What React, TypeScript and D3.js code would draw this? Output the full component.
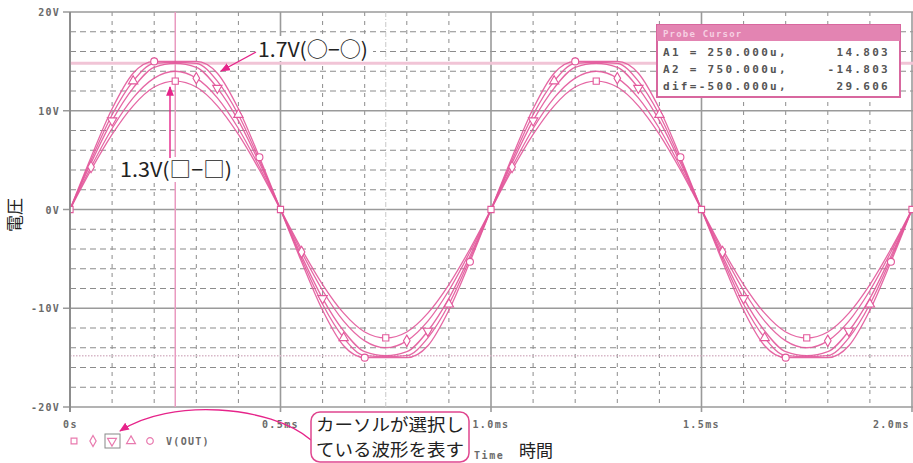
import React from "react";
import * as d3 from "d3";

// ---- data ----
const TIME_MS = [
  0, 0.05, 0.1, 0.15, 0.2, 0.25, 0.3, 0.35, 0.4, 0.45, 0.5, 0.55, 0.6, 0.65, 0.7, 0.75, 0.8, 0.85, 0.9, 0.95,
  1.0, 1.05, 1.1, 1.15, 1.2, 1.25, 1.3, 1.35, 1.4, 1.45, 1.5, 1.55, 1.6, 1.65, 1.7, 1.75, 1.8, 1.85, 1.9, 1.95, 2.0,
];
const V_13 = [
  0, 4.0, 7.6, 10.5, 12.4, 13.0, 12.4, 10.5, 7.6, 4.0, 0, -4.0, -7.6, -10.5, -12.4, -13.0, -12.4, -10.5, -7.6, -4.0,
  0, 4.0, 7.6, 10.5, 12.4, 13.0, 12.4, 10.5, 7.6, 4.0, 0, -4.0, -7.6, -10.5, -12.4, -13.0, -12.4, -10.5, -7.6, -4.0, 0,
];
const V_14 = [
  0, 4.3, 8.2, 11.3, 13.3, 14.0, 13.3, 11.3, 8.2, 4.3, 0, -4.3, -8.2, -11.3, -13.3, -14.0, -13.3, -11.3, -8.2, -4.3,
  0, 4.3, 8.2, 11.3, 13.3, 14.0, 13.3, 11.3, 8.2, 4.3, 0, -4.3, -8.2, -11.3, -13.3, -14.0, -13.3, -11.3, -8.2, -4.3, 0,
];
const V_15 = [
  0, 4.7, 9.0, 12.3, 14.4, 14.8, 14.4, 12.3, 9.0, 4.7, 0, -4.7, -9.0, -12.3, -14.4, -14.8, -14.4, -12.3, -9.0, -4.7,
  0, 4.7, 9.0, 12.3, 14.4, 14.8, 14.4, 12.3, 9.0, 4.7, 0, -4.7, -9.0, -12.3, -14.4, -14.8, -14.4, -12.3, -9.0, -4.7, 0,
];
const V_16 = [
  0, 5.0, 9.6, 13.0, 14.8, 14.9, 14.8, 13.0, 9.6, 5.0, 0, -5.0, -9.6, -13.0, -14.8, -14.9, -14.8, -13.0, -9.6, -5.0,
  0, 5.0, 9.6, 13.0, 14.8, 14.9, 14.8, 13.0, 9.6, 5.0, 0, -5.0, -9.6, -13.0, -14.8, -14.9, -14.8, -13.0, -9.6, -5.0, 0,
];
const V_17 = [
  0, 5.3, 10.2, 13.8, 15.0, 15.0, 15.0, 13.8, 10.2, 5.3, 0, -5.3, -10.2, -13.8, -15.0, -15.0, -15.0, -13.8, -10.2, -5.3,
  0, 5.3, 10.2, 13.8, 15.0, 15.0, 15.0, 13.8, 10.2, 5.3, 0, -5.3, -10.2, -13.8, -15.0, -15.0, -15.0, -13.8, -10.2, -5.3, 0,
];
const SERIES_VALUES = [V_13, V_14, V_15, V_16, V_17];
const SERIES_MARKERS = ["square", "diamond", "triangleDown", "triangleUp", "circle"];

const Y_TICKS = [20, 10, 0, -10, -20];
const Y_TICK_LABELS = ["20V", "10V", "0V", "-10V", "-20V"];
const X_TICKS = [0, 0.5, 1.0, 1.5, 2.0];
const X_TICK_LABELS = ["0s", "0.5ms", "1.0ms", "1.5ms", "2.0ms"];

const CURSOR_A1 = { t: 0.25, v: 14.803 };
const CURSOR_A2 = { t: 0.75, v: -14.803 };
const PROBE_TITLE = "Probe Cursor";
const PROBE_ROWS = [
  ["A1 = 250.000u,", "14.803"],
  ["A2 = 750.000u,", "-14.803"],
  ["dif=-500.000u,", "29.606"],
];

// ---- styling ----
const W = 913;
const H = 463;
const TRACE = "#e2579a";
const ARROW = "#e6248a";
const MONO = "'DejaVu Sans Mono', monospace";
const JP = "'Noto Sans CJK JP', sans-serif";

const x = d3.scaleLinear().domain([0, 2]).range([70, 912]);
const y = d3.scaleLinear().domain([-20, 20]).range([407, 12]);

function markerPath(kind: string, size = 38) {
  const sym =
    kind === "square"
      ? d3.symbolSquare
      : kind === "diamond"
      ? d3.symbolDiamond
      : kind === "circle"
      ? d3.symbolCircle
      : d3.symbolTriangle;
  return d3.symbol().type(sym).size(size)() as string;
}
function markerRot(kind: string) {
  return kind === "triangleDown" ? 180 : 0;
}

export default function App() {
  const line = d3
    .line<number>()
    .x((_, i) => x(TIME_MS[i]))
    .y((d) => y(d))
    .curve(d3.curveMonotoneX);

  const minorX = d3.range(0, 2.0001, 0.1).filter((t) => Math.abs(t / 0.5 - Math.round(t / 0.5)) > 1e-6);
  const minorY = d3.range(-20, 20.0001, 2).filter((v) => Math.abs(v % 10) > 1e-6);
  const majorX = X_TICKS;
  const majorY = Y_TICKS;

  return (
    <svg
      width={W}
      height={H}
      style={{ position: "fixed", left: 0, top: 0, background: "#fff" }}
      xmlns="http://www.w3.org/2000/svg"
    >
      <defs>
        <marker id="ah" viewBox="0 0 10 10" refX="9" refY="5" markerWidth="7" markerHeight="7" orient="auto-start-reverse">
          <path d="M0,1 L10,5 L0,9 Z" fill={ARROW} />
        </marker>
        <clipPath id="plotclip">
          <rect x={70} y={8} width={843} height={402} />
        </clipPath>
      </defs>
      <rect x={0} y={0} width={W} height={H} fill="#fff" />

      {/* minor grid */}
      {minorX.map((t, i) => (
        <line key={"mx" + i} x1={x(t)} x2={x(t)} y1={y(20)} y2={y(-20)} stroke="#8c8c8c" strokeWidth={1} strokeDasharray="4,5" />
      ))}
      {minorY.map((v, i) => (
        <line key={"my" + i} x1={x(0)} x2={W} y1={y(v)} y2={y(v)} stroke="#8c8c8c" strokeWidth={1.2} strokeDasharray="6,4" />
      ))}
      {/* major grid */}
      {majorX.map((t, i) => (
        <line key={"Mx" + i} x1={x(t)} x2={x(t)} y1={y(20)} y2={y(-20) + 5} stroke="#9a9a9a" strokeWidth={1.6} />
      ))}
      {majorY.map((v, i) => (
        <line key={"My" + i} x1={x(0) - 7} x2={W} y1={y(v)} y2={y(v)} stroke="#9a9a9a" strokeWidth={1.6} />
      ))}

      {/* A2 cursor (dotted) */}
      <line x1={x(CURSOR_A2.t)} x2={x(CURSOR_A2.t)} y1={y(20)} y2={y(-20)} stroke="#c8c8c8" strokeWidth={1} strokeDasharray="5,2,1,2" />
      <line x1={x(0)} x2={W} y1={y(CURSOR_A2.v)} y2={y(CURSOR_A2.v)} stroke="#d8b8c8" strokeWidth={1.4} strokeDasharray="1.5,1.5" />

      {/* A1 cursor */}
      <line x1={x(0)} x2={W} y1={y(CURSOR_A1.v)} y2={y(CURSOR_A1.v)} stroke="#f1c4d6" strokeWidth={3} />
      <line x1={x(CURSOR_A1.t)} x2={x(CURSOR_A1.t)} y1={y(20)} y2={y(-20)} stroke="#e99ac0" strokeWidth={1.5} />

      {/* traces */}
      <g clipPath="url(#plotclip)">
        {SERIES_VALUES.map((vals, k) => (
          <path key={"s" + k} d={line(vals) as string} fill="none" stroke={TRACE} strokeWidth={1.3} strokeOpacity={0.9} />
        ))}
        {SERIES_VALUES.map((vals, k) =>
          vals.map((v, i) =>
            i % 5 === k ? (
              <path
                key={"m" + k + "-" + i}
                d={markerPath(SERIES_MARKERS[k])}
                transform={`translate(${x(TIME_MS[i])},${y(v)}) rotate(${markerRot(SERIES_MARKERS[k])})`}
                fill="#fff"
                stroke={TRACE}
                strokeWidth={1.1}
              />
            ) : null
          )
        )}
      </g>

      {/* axis frame */}
      <line x1={x(0)} x2={x(0)} y1={y(20)} y2={y(-20) + 5} stroke="#8a8a8a" strokeWidth={1.8} />

      {/* y tick labels */}
      {Y_TICKS.map((v, i) => (
        <text
          key={"yl" + i}
          x={60}
          y={y(v) + 4}
          textAnchor="end"
          fontFamily={MONO}
          fontWeight="bold"
          fontSize={10}
          letterSpacing={1.2}
          fill="#6a6a6a"
        >
          {Y_TICK_LABELS[i]}
        </text>
      ))}
      {/* x tick labels */}
      {X_TICKS.map((t, i) => {
        const last = i === X_TICKS.length - 1;
        return (
          <text
            key={"xl" + i}
            x={i === 0 ? x(t) - 7 : last ? 910 : x(t)}
            y={428}
            textAnchor={i === 0 ? "start" : last ? "end" : "middle"}
            fontFamily={MONO}
            fontWeight="bold"
            fontSize={10}
            letterSpacing={1.4}
            fill="#6a6a6a"
          >
            {X_TICK_LABELS[i]}
          </text>
        );
      })}

      {/* axis titles */}
      <text transform="translate(21,215) rotate(-90)" textAnchor="middle" fontFamily={JP} fontSize={17} fill="#222">
        電圧
      </text>
      <text x={474} y={459} fontFamily={MONO} fontWeight="bold" fontSize={10} letterSpacing={1.6} fill="#6a6a6a">
        Time
      </text>
      <text x={519} y={457} fontFamily={JP} fontSize={17} fill="#222">
        時間
      </text>

      {/* legend */}
      {SERIES_MARKERS.map((m, k) => (
        <path
          key={"lg" + k}
          d={markerPath(m, 34)}
          transform={`translate(${74 + k * 19},${441}) rotate(${markerRot(m)})`}
          fill="#fff"
          stroke={TRACE}
          strokeWidth={1.2}
          strokeOpacity={0.8}
        />
      ))}
      <rect x={105} y={434} width={15} height={14} fill="none" stroke="#888" strokeWidth={1} />
      <text x={166} y={445} fontFamily={MONO} fontWeight="bold" fontSize={10} letterSpacing={1.3} fill="#6a6a6a">
        V(OUT)
      </text>

      {/* Probe cursor box */}
      <rect x={657} y={25} width={243} height={72} fill="#fff" stroke="#d8679f" strokeWidth={2} />
      <rect x={657} y={25} width={243} height={16} fill="#e384b2" />
      <text x={663} y={37} fontFamily={MONO} fontWeight="bold" fontSize={9} letterSpacing={1.2} fill="#f6d0e2">
        {PROBE_TITLE}
      </text>
      {PROBE_ROWS.map((r, i) => (
        <g key={"pr" + i}>
          <text x={663} y={56 + i * 17} fontFamily={MONO} fontWeight="bold" fontSize={11} letterSpacing={2.3} fill="#555">
            {r[0]}
          </text>
          <text x={890} y={56 + i * 17} textAnchor="end" fontFamily={MONO} fontWeight="bold" fontSize={11} letterSpacing={2.3} fill="#555">
            {r[1]}
          </text>
        </g>
      ))}

      {/* annotation 1.7V */}
      <rect x={255} y={36} width={118} height={25} fill="#fff" />
      <line x1={256} y1={52} x2={221} y2={71} stroke={ARROW} strokeWidth={1.4} markerEnd="url(#ah)" />
      <text x={258} y={57} fontFamily={JP} fontSize={20} fill="#222" textLength={110} lengthAdjust="spacingAndGlyphs">
        1.7V(○−○)
      </text>

      {/* annotation 1.3V */}
      <rect x={117} y={157} width={120} height={25} fill="#fff" />
      <line x1={170} y1={158} x2={170} y2={87} stroke={ARROW} strokeWidth={1.4} markerEnd="url(#ah)" />
      <text x={120} y={177} fontFamily={JP} fontSize={20} fill="#222" textLength={112} lengthAdjust="spacingAndGlyphs">
        1.3V(□−□)
      </text>

      {/* selection callout */}
      <path d="M311,440 C270,405 170,398 120,431" fill="none" stroke={ARROW} strokeWidth={1.4} markerEnd="url(#ah)" />
      <rect x={311} y={412} width={158} height={50} rx={9} ry={9} fill="#fff" stroke="#e0468f" strokeWidth={1.5} />
      <text x={316} y={431} fontFamily={JP} fontSize={17} fill="#222" textLength={148} lengthAdjust="spacingAndGlyphs">
        カーソルが選択し
      </text>
      <text x={316} y={456} fontFamily={JP} fontSize={17} fill="#222" textLength={148} lengthAdjust="spacingAndGlyphs">
        ている波形を表す
      </text>
    </svg>
  );
}
